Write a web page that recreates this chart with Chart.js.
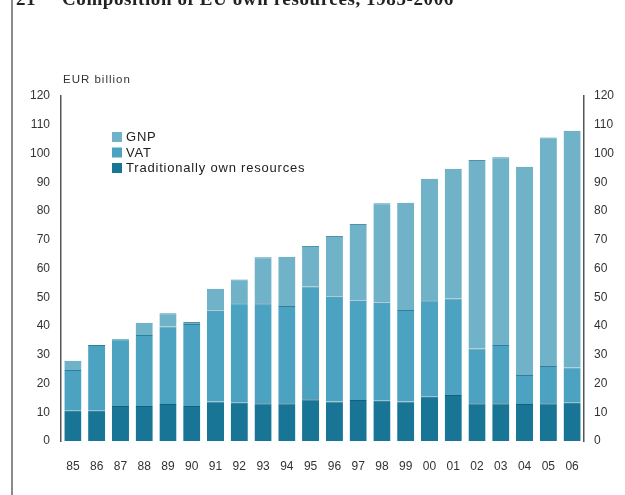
<!DOCTYPE html>
<html>
<head>
<meta charset="utf-8">
<script src="https://cdn.jsdelivr.net/npm/chart.js@4/dist/chart.umd.min.js"></script>
<style>
  html, body { margin: 0; padding: 0; background: #ffffff; }
  #wrap { width: 625px; height: 495px; position: relative; }
</style>
</head>
<body>
<div id="wrap"><canvas id="c" width="625" height="495"></canvas></div>
<script>
// Composition of EU own resources, 1985-2006 (EUR billion)
const years = ['85','86','87','88','89','90','91','92','93','94','95','96','97','98','99','00','01','02','03','04','05','06'];
const traditionalOwnResources = [10.5,10.5,12.2,12.2,12.9,12.2,13.7,13.3,13.1,13.1,14.5,13.7,14.3,14.0,13.7,15.4,16.0,13.1,13.1,12.9,13.1,13.3];
const vat = [14.2,22.9,23.2,24.7,26.9,28.5,31.6,34.6,34.8,33.9,39.2,36.5,34.5,34.1,31.9,33.6,33.6,19.1,20.3,10.1,13.0,12.3];
const gnp = [3.2,0,0,4.2,4.6,0.7,7.7,8.3,16.0,17.1,14.1,21.1,26.7,34.6,37.3,42.2,45.1,65.5,65.3,72.4,79.5,82.3];
const yTicks = [0,10,20,30,40,50,60,70,80,90,100,110,120];

const titleNumber = '21';
const titleText = 'Composition of EU own resources, 1985-2006';
const unitLabel = 'EUR billion';

const colTOR = '#187596';
const colVAT = '#4ba2c1';
const colGNP = '#70b3c8';

const FONT = '"Liberation Sans", Arial, sans-serif';

// Frame, clipped title, unit label and legend drawn on the canvas
const decorations = {
  id: 'decorations',
  beforeInit(chart) {
    chart.ctx.letterSpacing = '1px';
  },
  beforeDraw(chart) {
    const ctx = chart.ctx;
    ctx.save();
    ctx.fillStyle = '#ffffff';
    ctx.fillRect(0, 0, chart.width, chart.height);
    // left frame rule
    ctx.strokeStyle = '#8a8a8a';
    ctx.lineWidth = 2;
    ctx.beginPath();
    ctx.moveTo(12, 0);
    ctx.lineTo(12, chart.height);
    ctx.stroke();
    // title (only its lower part sits inside the page)
    ctx.fillStyle = '#222222';
    ctx.font = 'bold 19px "Liberation Serif", serif';
    ctx.letterSpacing = '0.6px';
    ctx.textBaseline = 'alphabetic';
    ctx.textAlign = 'left';
    ctx.fillText(titleNumber, 16, 5);
    ctx.fillText(titleText, 62, 5);
    ctx.restore();
  },
  afterDraw(chart) {
    const ctx = chart.ctx;
    ctx.save();
    ctx.letterSpacing = '1px';
    ctx.fillStyle = '#333333';
    ctx.font = '11.5px ' + FONT;
    ctx.textAlign = 'left';
    ctx.textBaseline = 'middle';
    ctx.fillText(unitLabel, 63, 80);

    // legend, top series first
    const items = chart.data.datasets.slice().reverse();
    const x0 = 112, y0 = 137, step = 15.5;
    ctx.font = '13px ' + FONT;
    ctx.letterSpacing = '0.8px';
    items.forEach((ds, i) => {
      const y = y0 + i * step;
      ctx.fillStyle = ds.backgroundColor;
      ctx.fillRect(x0, y - 5, 10, 10);
      ctx.fillStyle = '#222222';
      ctx.fillText(ds.label, x0 + 14, y + 0.5);
    });
    ctx.restore();
  }
};

const tickFont = { family: FONT, size: 12 };

new Chart(document.getElementById('c'), {
  type: 'bar',
  data: {
    labels: years,
    datasets: [
      { label: 'Traditionally own resources', data: traditionalOwnResources, backgroundColor: colTOR,
        borderColor: '#11607c', borderWidth: { top: 1, left: 0, right: 0, bottom: 0 }, borderSkipped: false },
      { label: 'VAT', data: vat, backgroundColor: colVAT,
        borderColor: '#2f7f9c', borderWidth: { top: 1, left: 0, right: 0, bottom: 0 }, borderSkipped: false },
      { label: 'GNP', data: gnp, backgroundColor: colGNP,
        borderColor: '#4f93aa', borderWidth: { top: 1, left: 0, right: 0, bottom: 0 }, borderSkipped: false }
    ]
  },
  options: {
    responsive: false,
    animation: false,
    devicePixelRatio: 1,
    layout: { padding: { left: 13, right: 0, top: 96, bottom: 0 } },
    datasets: { bar: { barPercentage: 0.72, categoryPercentage: 1.0 } },
    plugins: {
      legend: { display: false },
      title: { display: false },
      tooltip: { enabled: false }
    },
    scales: {
      x: {
        stacked: true,
        grid: { display: false, drawTicks: false },
        border: { display: false },
        ticks: { color: '#333333', font: tickFont, padding: 18, maxRotation: 0, autoSkip: false },
        afterFit(scale) { scale.height = 54; }
      },
      y: {
        stacked: true,
        position: 'left',
        min: 0, max: 120,
        afterBuildTicks(scale) { scale.ticks = yTicks.map(v => ({ value: v })); },
        grid: { display: false, drawTicks: false },
        border: { display: true, color: '#555555', width: 1.5 },
        ticks: { color: '#333333', font: tickFont, padding: 11 },
        afterFit(scale) { scale.width = 48; }
      },
      y2: {
        position: 'right',
        min: 0, max: 120,
        afterBuildTicks(scale) { scale.ticks = yTicks.map(v => ({ value: v })); },
        grid: { display: false, drawTicks: false },
        border: { display: true, color: '#555555', width: 1.5 },
        ticks: { color: '#333333', font: tickFont, padding: 10 },
        afterFit(scale) { scale.width = 41; }
      }
    }
  },
  plugins: [decorations]
});
</script>
</body>
</html>
